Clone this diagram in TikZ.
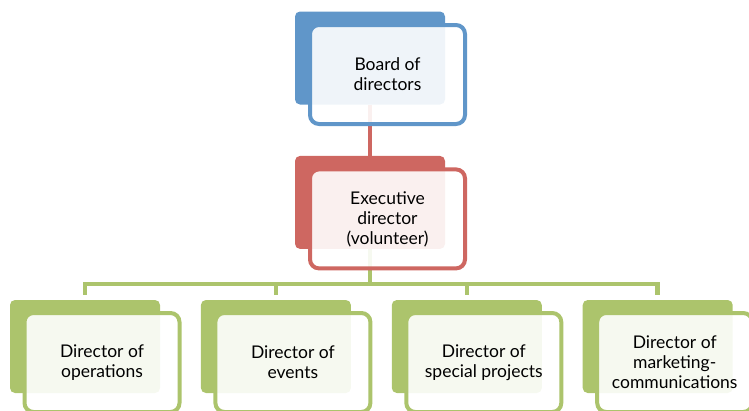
\documentclass[tikz,border=0pt]{standalone}
\usepackage{fontspec}
\setmainfont{Lato}
\usetikzlibrary{positioning}
\definecolor{Sky}{HTML}{6096C9}
\definecolor{Brick}{HTML}{CE6761}
\definecolor{Leaf}{HTML}{ACC46C}
\tikzset{
  back/.style={fill=#1,rounded corners=5pt,minimum width=150pt,minimum height=93pt,inner sep=0pt},
  front/.style={draw=#1,fill=white,fill opacity=.9,text opacity=1,line width=4pt,rounded corners=9pt,minimum width=155pt,minimum height=99pt,align=center,inner sep=2pt,font=\fontsize{17.5}{20}\selectfont},
  link/.style={draw=#1,line width=4.5pt}
}
\begin{document}
\begin{tikzpicture}[x=1pt,y=-1pt]
  \useasboundingbox (0,0) rectangle (749,410);
  % coloured plates behind each card
  \node[back=Sky] (boardback) at (370,58) {};
  \node[back=Brick,below=51pt of boardback] (execback) {};
  \node[back=Leaf] (opsback) at (85,346.5) {};
  \node[back=Leaf,right=40.5pt of opsback] (eventsback) {};
  \node[back=Leaf,right=40.5pt of eventsback] (projback) {};
  \node[back=Leaf,right=40.5pt of projback] (mktback) {};
  % connectors go under the framed cards
  \draw[link=Brick] (boardback) -- (execback);
  \coordinate[below=35pt of execback.south] (bus);
  \draw[link=Leaf] (execback) -- (bus);
  \draw[link=Leaf,shorten >=5pt] (bus) -| (opsback);
  \draw[link=Leaf,shorten >=5pt] (bus) -| (eventsback);
  \draw[link=Leaf,shorten >=5pt] (bus) -| (projback);
  \draw[link=Leaf,shorten >=5pt] (bus) -| (mktback);
  % framed cards with the titles
  \node[front=Sky] (board) at (boardback) [xshift=17.5pt,yshift=-16.5pt] {Board of\\directors};
  \node[front=Brick] (exec) at (execback) [xshift=17.5pt,yshift=-16.5pt] {Executive\\director\\(volunteer)};
  \node[front=Leaf] (ops) at (opsback) [xshift=17pt,yshift=-16pt] {Director of\\operations};
  \node[front=Leaf] (events) at (eventsback) [xshift=17pt,yshift=-16pt] {Director of\\events};
  \node[front=Leaf] (proj) at (projback) [xshift=17pt,yshift=-16pt] {Director of\\special projects};
  \node[front=Leaf] (mkt) at (mktback) [xshift=17pt,yshift=-16pt] {Director of\\marketing-\\communications};
\end{tikzpicture}
\end{document}
